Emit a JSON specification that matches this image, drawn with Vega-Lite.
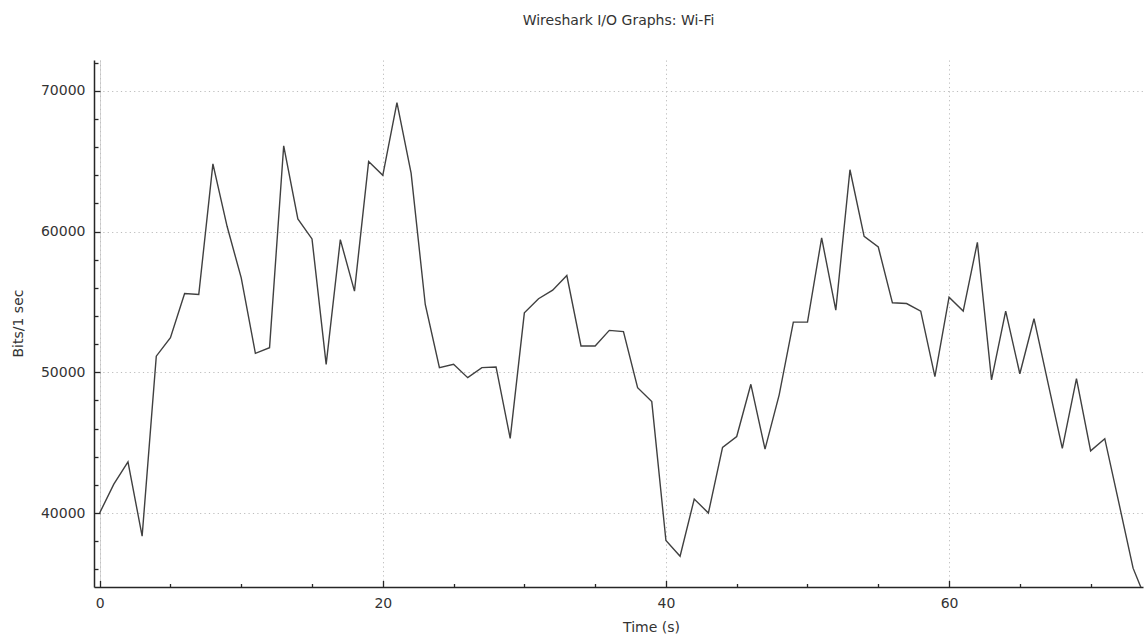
{
  "$schema": "https://vega.github.io/schema/vega-lite/v6.json",
  "autosize": {"type": "none"},
  "padding": {"left": 94, "top": 60, "right": 2, "bottom": 50},
  "width": 1049,
  "height": 527,
  "background": "white",
  "title": {
    "text": "Wireshark I/O Graphs: Wi-Fi",
    "anchor": "middle",
    "font": "DejaVu Sans",
    "fontSize": 14,
    "fontWeight": "normal",
    "color": "#333333",
    "baseline": "middle",
    "offset": 25
  },
  "config": {
    "view": {"stroke": null},
    "axis": {
      "labelFont": "DejaVu Sans",
      "labelFontSize": 14,
      "labelColor": "#333333",
      "titleFont": "DejaVu Sans",
      "titleFontSize": 14,
      "titleFontWeight": "normal",
      "titleColor": "#333333",
      "domainColor": "#262626",
      "domainWidth": 1.5,
      "tickColor": "#262626",
      "tickWidth": 1.3,
      "gridColor": "#bdbdbd",
      "gridDash": [1.2, 3.2],
      "gridWidth": 1
    }
  },
  "data": {
    "values": [
      {"t": 0, "bits": 40000}, {"t": 1, "bits": 42050}, {"t": 2, "bits": 43640},
      {"t": 3, "bits": 38350}, {"t": 4, "bits": 51150}, {"t": 5, "bits": 52460},
      {"t": 6, "bits": 55600}, {"t": 7, "bits": 55530}, {"t": 8, "bits": 64820},
      {"t": 9, "bits": 60380}, {"t": 10, "bits": 56710}, {"t": 11, "bits": 51350},
      {"t": 12, "bits": 51750}, {"t": 13, "bits": 66100}, {"t": 14, "bits": 60900},
      {"t": 15, "bits": 59480}, {"t": 16, "bits": 50570}, {"t": 17, "bits": 59430},
      {"t": 18, "bits": 55770}, {"t": 19, "bits": 64990}, {"t": 20, "bits": 64000},
      {"t": 21, "bits": 69170}, {"t": 22, "bits": 64160}, {"t": 23, "bits": 54820},
      {"t": 24, "bits": 50330}, {"t": 25, "bits": 50570}, {"t": 26, "bits": 49620},
      {"t": 27, "bits": 50330}, {"t": 28, "bits": 50380}, {"t": 29, "bits": 45300},
      {"t": 30, "bits": 54230}, {"t": 31, "bits": 55230}, {"t": 32, "bits": 55840},
      {"t": 33, "bits": 56880}, {"t": 34, "bits": 51870}, {"t": 35, "bits": 51870},
      {"t": 36, "bits": 52980}, {"t": 37, "bits": 52890}, {"t": 38, "bits": 48910},
      {"t": 39, "bits": 47920}, {"t": 40, "bits": 38040}, {"t": 41, "bits": 36930},
      {"t": 42, "bits": 40990}, {"t": 43, "bits": 40000}, {"t": 44, "bits": 44660},
      {"t": 45, "bits": 45440}, {"t": 46, "bits": 49150}, {"t": 47, "bits": 44540},
      {"t": 48, "bits": 48400}, {"t": 49, "bits": 53570}, {"t": 50, "bits": 53570},
      {"t": 51, "bits": 59550}, {"t": 52, "bits": 54420}, {"t": 53, "bits": 64400},
      {"t": 54, "bits": 59670}, {"t": 55, "bits": 58910}, {"t": 56, "bits": 54940},
      {"t": 57, "bits": 54890}, {"t": 58, "bits": 54350}, {"t": 59, "bits": 49690},
      {"t": 60, "bits": 55340}, {"t": 61, "bits": 54350}, {"t": 62, "bits": 59240},
      {"t": 63, "bits": 49460}, {"t": 64, "bits": 54350}, {"t": 65, "bits": 49900},
      {"t": 66, "bits": 53810}, {"t": 67, "bits": 49200}, {"t": 68, "bits": 44590},
      {"t": 69, "bits": 49550}, {"t": 70, "bits": 44420}, {"t": 71, "bits": 45280},
      {"t": 72, "bits": 40700}, {"t": 73, "bits": 36080}, {"t": 74, "bits": 33600}
    ]
  },
  "resolve": {"axis": {"x": "independent", "y": "independent"}},
  "layer": [
    {
      "mark": {"type": "point", "opacity": 0, "clip": true},
      "encoding": {
        "x": {
          "field": "t", "type": "quantitative",
          "scale": {"domain": [-0.4, 73.7], "nice": false, "zero": false},
          "axis": {
            "orient": "bottom", "values": [0], "grid": true, "gridDash": [],
            "gridColor": "#d6d6d6", "ticks": false, "labels": false,
            "domain": false, "title": null
          }
        },
        "y": {
          "field": "bits", "type": "quantitative",
          "scale": {"domain": [34740, 72200], "nice": false, "zero": false},
          "axis": {
            "orient": "left",
            "values": [36000, 38000, 42000, 44000, 46000, 48000, 52000, 54000, 56000, 58000, 62000, 64000, 66000, 68000, 72000],
            "grid": false, "tickSize": -4, "labels": false, "domain": false, "title": null
          }
        }
      }
    },
    {
      "mark": {"type": "point", "opacity": 0, "clip": true},
      "encoding": {
        "x": {
          "field": "t", "type": "quantitative",
          "axis": {
            "orient": "bottom",
            "values": [5, 10, 15, 25, 30, 35, 45, 50, 55, 65, 70],
            "grid": false, "tickSize": -3.5, "labels": false, "domain": false, "title": null
          }
        },
        "y": {"field": "bits", "type": "quantitative", "axis": null}
      }
    },
    {
      "mark": {"type": "line", "color": "#404040", "strokeWidth": 1.4, "clip": true},
      "encoding": {
        "x": {
          "field": "t", "type": "quantitative",
          "axis": {
            "orient": "bottom", "values": [0, 20, 40, 60], "grid": true,
            "tickSize": -6.5, "labelPadding": 15.5, "labelBaseline": "top",
            "title": "Time (s)", "titleX": 557, "titleY": 40,
            "titleAlign": "center", "titleBaseline": "middle"
          }
        },
        "y": {
          "field": "bits", "type": "quantitative",
          "axis": {
            "orient": "left", "values": [40000, 50000, 60000, 70000], "grid": true,
            "tickSize": -6, "labelPadding": 15, "format": "d",
            "title": "Bits/1 sec", "titleX": -75.5, "titleY": 263, "titleAngle": 270,
            "titleAlign": "center", "titleBaseline": "middle"
          }
        }
      }
    }
  ]
}
